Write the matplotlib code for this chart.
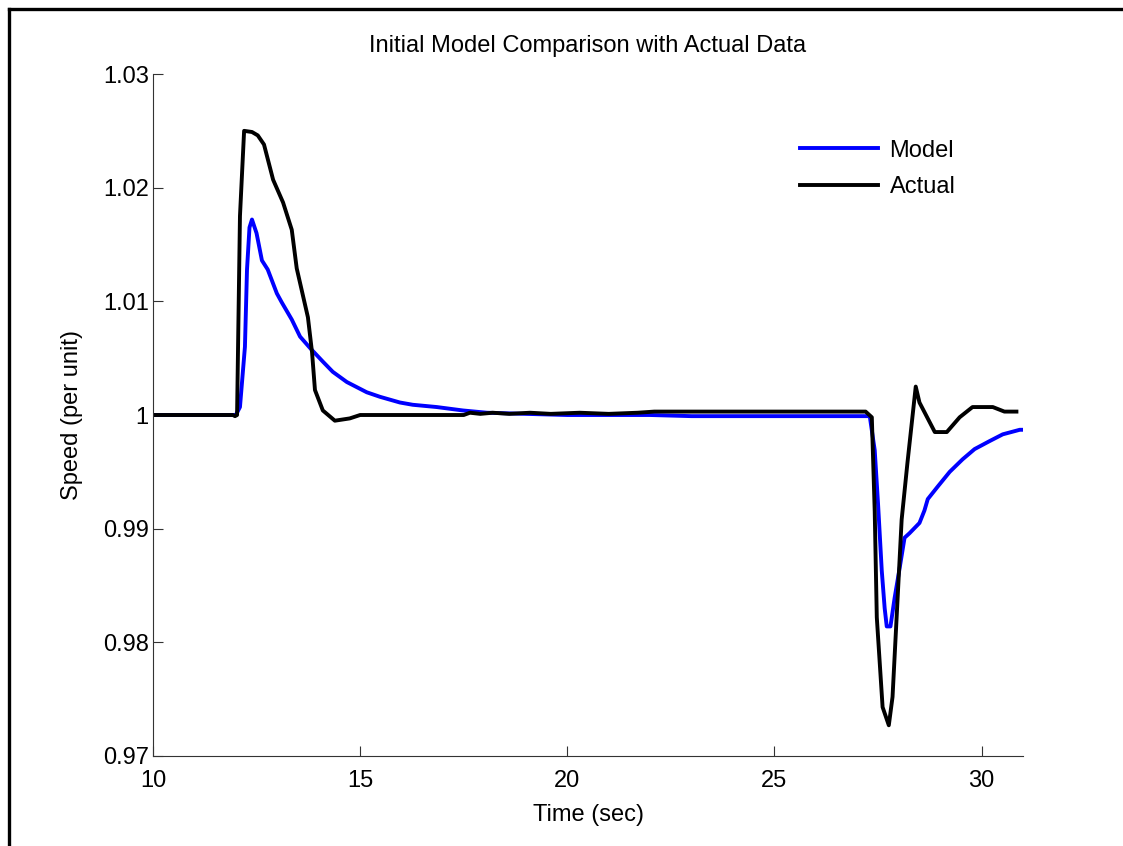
import numpy as np
import matplotlib
matplotlib.use("Agg")
import matplotlib.pyplot as plt
from matplotlib.lines import Line2D

plt.rcParams['font.family'] = ['Liberation Sans', 'DejaVu Sans']

# Model response (time in sec, speed in per unit)
model_t = [10.0, 12.0, 12.1, 12.22, 12.27, 12.33, 12.39, 12.5, 12.63, 12.77,
           12.99, 13.11, 13.35, 13.55, 13.79, 14.1, 14.34, 14.68, 15.16, 15.48,
           15.96, 16.27, 16.85, 17.48, 18.06, 19.0, 20.0, 22.0, 23.0, 25.0,
           27.0, 27.3, 27.42, 27.5, 27.59, 27.66, 27.71, 27.8, 27.9, 28.02,
           28.14, 28.26, 28.5, 28.62, 28.7, 28.94, 29.23, 29.54, 29.83, 30.19,
           30.51, 30.92, 31.0]
model_v = [1.0, 1.0, 1.0007, 1.006, 1.0128, 1.0165, 1.0172, 1.016, 1.0136, 1.0128,
           1.0107, 1.0099, 1.0084, 1.0069, 1.0059, 1.0047, 1.0038, 1.0029, 1.002, 1.0016,
           1.0011, 1.0009, 1.0007, 1.0004, 1.0002, 1.0001, 1.0, 1.0, 0.9999, 0.9999,
           0.9999, 0.9999, 0.9969, 0.9922, 0.9863, 0.9830, 0.9814, 0.9814, 0.9839, 0.9865,
           0.9892, 0.9896, 0.9905, 0.9916, 0.9926, 0.9937, 0.9950, 0.9961, 0.9970, 0.9977,
           0.9983, 0.9987, 0.9987]

# Actual measured response
actual_t = [10.0, 11.93, 11.98, 12.03, 12.1, 12.2, 12.39, 12.53, 12.68, 12.9,
            13.14, 13.35, 13.47, 13.74, 13.84, 13.91, 14.1, 14.39, 14.75, 15.0,
            17.5, 17.65, 17.9, 18.2, 18.6, 19.1, 19.6, 20.3, 21.0, 21.7,
            22.1, 27.2, 27.35, 27.42, 27.47, 27.61, 27.76, 27.85, 28.07, 28.21,
            28.41, 28.5, 28.87, 29.16, 29.47, 29.78, 30.27, 30.55, 30.84]
actual_v = [1.0, 1.0, 0.9999, 1.0, 1.0175, 1.025, 1.0249, 1.0246, 1.0238, 1.0207,
            1.0187, 1.0163, 1.0129, 1.0086, 1.0055, 1.0022, 1.0004, 0.9995, 0.9997, 1.0,
            1.0, 1.0002, 1.0001, 1.0002, 1.0001, 1.0002, 1.0001, 1.0002, 1.0001, 1.0002,
            1.0003, 1.0003, 0.9998, 0.9915, 0.9822, 0.9743, 0.9727, 0.9752, 0.9908, 0.9958,
            1.0025, 1.0011, 0.9985, 0.9985, 0.9998, 1.0007, 1.0007, 1.0003, 1.0003]

x_ticks = [10, 15, 20, 25, 30]
y_ticks = [0.97, 0.98, 0.99, 1.0, 1.01, 1.02, 1.03]
y_labels = ["0.97", "0.98", "0.99", "1", "1.01", "1.02", "1.03"]

fig = plt.figure(figsize=(11.23, 8.46), dpi=100)
ax = fig.add_axes([0.1362, 0.1064, 0.7748, 0.8061])

ax.plot(model_t, model_v, color="#0000ff", linewidth=2.8, label="Model")
ax.plot(actual_t, actual_v, color="black", linewidth=2.8, label="Actual")

ax.set_xlim(10, 31)
ax.set_ylim(0.97, 1.03)
ax.set_xticks(x_ticks)
ax.set_yticks(y_ticks)
ax.set_yticklabels(y_labels)

for side in ["top", "right"]:
    ax.spines[side].set_visible(False)
for side in ["left", "bottom"]:
    ax.spines[side].set_color("#333333")
    ax.spines[side].set_linewidth(0.8)
ax.tick_params(direction="in", length=7, width=0.8, color="#333333",
               labelsize=17)
ax.tick_params(axis="x", pad=10)
ax.tick_params(axis="y", pad=3)

ax.set_title("Initial Model Comparison with Actual Data", fontsize=17, pad=16)
ax.set_xlabel("Time (sec)", fontsize=17, labelpad=9)
ax.set_ylabel("Speed (per unit)", fontsize=17, labelpad=14)

ax.legend(loc="upper left", bbox_to_anchor=(0.719, 0.935), frameon=False,
          fontsize=17, handlelength=3.3, handletextpad=0.5, labelspacing=0.62)

# outer frame (top and left edges)
fig.add_artist(Line2D([9 / 1123, 9 / 1123], [0, 1 - 9 / 846], color="black",
                      linewidth=2.4, transform=fig.transFigure))
fig.add_artist(Line2D([9 / 1123, 1], [1 - 9 / 846, 1 - 9 / 846], color="black",
                      linewidth=2.4, transform=fig.transFigure))

fig.savefig("out.png", dpi=100)
